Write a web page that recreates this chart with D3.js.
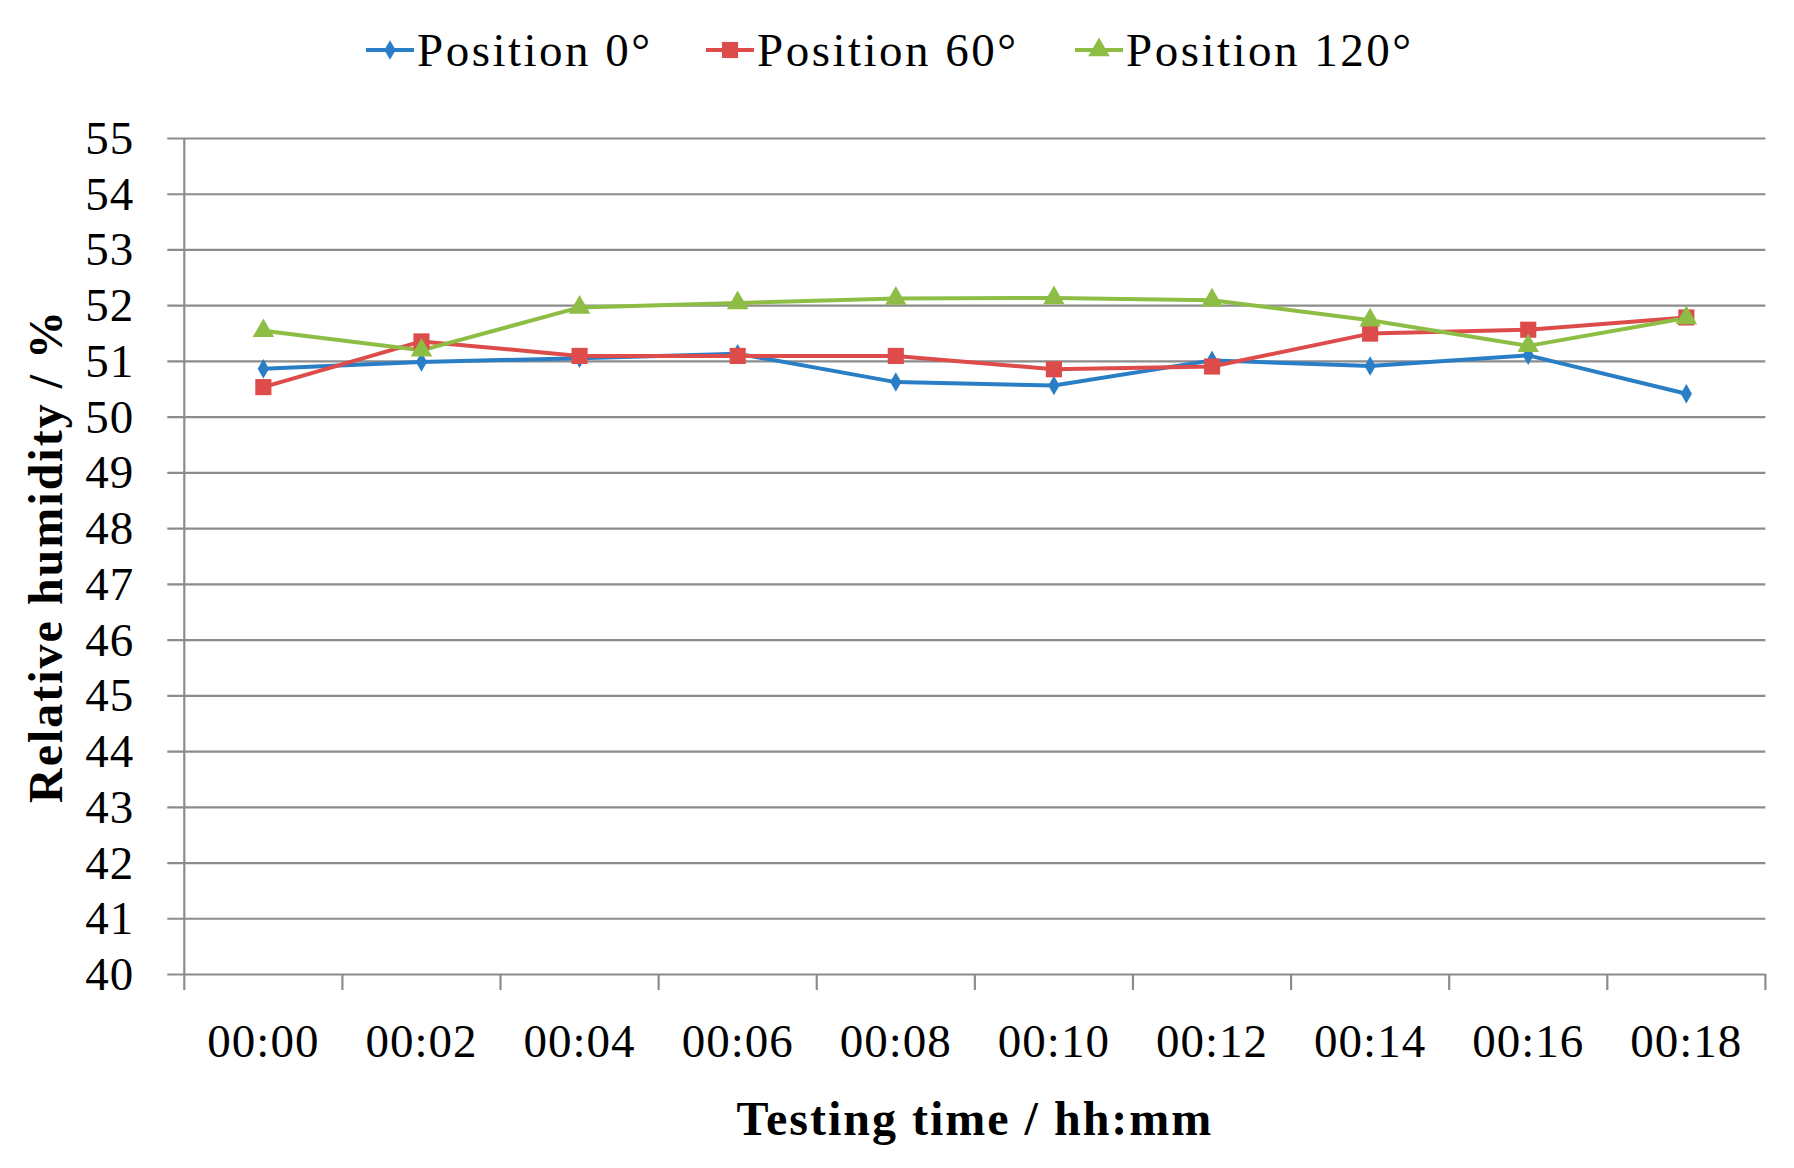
<!DOCTYPE html>
<html>
<head>
<meta charset="utf-8">
<script src="https://cdn.jsdelivr.net/npm/d3@7"></script>
<style>
  html, body { margin: 0; padding: 0; background: #fff; }
  svg { display: block; }
  text { font-family: "Liberation Serif", "DejaVu Serif", serif; fill: #000; }
</style>
</head>
<body>
<svg id="chart" width="1794" height="1168"></svg>
<script>
const categories = ["00:00","00:02","00:04","00:06","00:08","00:10","00:12","00:14","00:16","00:18"];
const seriesNames = ["Position 0°","Position 60°","Position 120°"];
const pos0   = [50.86, 50.98, 51.05, 51.13, 50.62, 50.56, 51.01, 50.91, 51.10, 50.41];
const pos60  = [50.53, 51.35, 51.09, 51.09, 51.09, 50.85, 50.90, 51.49, 51.56, 51.78];
const pos120 = [51.54, 51.19, 51.96, 52.04, 52.12, 52.13, 52.09, 51.73, 51.27, 51.77];
const yTicks = d3.range(40, 56, 1);
const colors = ["#2a7ec6", "#dd4b4b", "#8dbd45"];
const markerTypes = [d3.symbolDiamond, d3.symbolSquare, d3.symbolTriangle];
const markerSizes = [110, 260, 200];

const svg = d3.select("#chart");
const W = 1794, H = 1168;
const m = { left: 184.3, right: W - 1765.4, top: 138, bottom: H - 974 };
const iw = W - m.left - m.right, ih = H - m.top - m.bottom;
const g = svg.append("g").attr("transform", `translate(${m.left},${m.top})`);

const x = d3.scaleBand().domain(categories).range([0, iw]).paddingInner(0).paddingOuter(0);
const y = d3.scaleLinear().domain([40, 55]).range([ih, 0]);

// gridlines + y axis
const yAxis = d3.axisLeft(y).tickValues(yTicks).tickSize(-iw).tickSizeOuter(0).tickPadding(0).tickFormat(d3.format("d"));
const yg = g.append("g").call(yAxis);
yg.select(".domain").remove();
yg.selectAll(".tick line").attr("x1", -17).attr("stroke", "#8c8c8c").attr("stroke-width", 2.2);
yg.selectAll(".tick text").attr("x", -50).attr("dy", "0.33em").style("font-size", "47px").style("letter-spacing", "1px").style("text-anchor", "end");

// left axis line
g.append("line").attr("x1", 0).attr("x2", 0).attr("y1", 0).attr("y2", ih).attr("stroke", "#8c8c8c").attr("stroke-width", 2.2);

// bottom x axis
const xg = g.append("g").attr("transform", `translate(0,${ih})`)
  .call(d3.axisBottom(x).tickSize(0).tickPadding(0));
xg.select(".domain").remove();
xg.selectAll(".tick text").attr("y", 83).attr("dy", 0).style("font-size", "47px").style("letter-spacing", "1px");
// category boundary ticks
const bounds = categories.map(c => x(c)).concat([iw]);
g.append("g").selectAll("line").data(bounds).join("line")
  .attr("x1", d => d).attr("x2", d => d).attr("y1", ih).attr("y2", ih + 16)
  .attr("stroke", "#8c8c8c").attr("stroke-width", 2.2);

// series
const allSeries = [pos0, pos60, pos120];
const line = d3.line().x((d, i) => x(categories[i]) + x.bandwidth() / 2).y(d => y(d));
allSeries.forEach((vals, si) => {
  g.append("path").datum(vals).attr("d", line)
    .attr("fill", "none").attr("stroke", colors[si]).attr("stroke-width", 4).attr("stroke-linejoin", "round");
});
allSeries.forEach((vals, si) => {
  g.append("g").selectAll("path").data(vals).join("path")
    .attr("d", d3.symbol().type(markerTypes[si]).size(markerSizes[si]))
    .attr("transform", (d, i) => `translate(${x(categories[i]) + x.bandwidth() / 2},${y(d)})`)
    .attr("fill", colors[si]);
});

// axis titles
svg.append("text").attr("x", m.left + iw / 2).attr("y", 1135)
  .attr("text-anchor", "middle").style("font-size", "48px").style("font-weight", "bold").style("letter-spacing", "2px")
  .text("Testing time / hh:mm");
svg.append("text").attr("transform", `translate(62,${m.top + ih / 2}) rotate(-90)`)
  .attr("text-anchor", "middle").style("font-size", "48px").style("font-weight", "bold").style("letter-spacing", "2px")
  .text("Relative humidity / %");

// legend
const legendX = [366, 706, 1075];
const legendY = 50;
const lg = svg.append("g");
seriesNames.forEach((name, si) => {
  const item = lg.append("g").attr("transform", `translate(${legendX[si]},${legendY})`);
  item.append("line").attr("x1", 0).attr("x2", 48).attr("y1", 0).attr("y2", 0)
    .attr("stroke", colors[si]).attr("stroke-width", 4);
  item.append("path").attr("d", d3.symbol().type(markerTypes[si]).size(markerSizes[si])())
    .attr("transform", "translate(24,0)").attr("fill", colors[si]);
  item.append("text").attr("x", 51).attr("y", 0).attr("dy", "0.35em")
    .style("font-size", "47px").style("letter-spacing", "2.5px").text(name);
});
</script>
</body>
</html>
